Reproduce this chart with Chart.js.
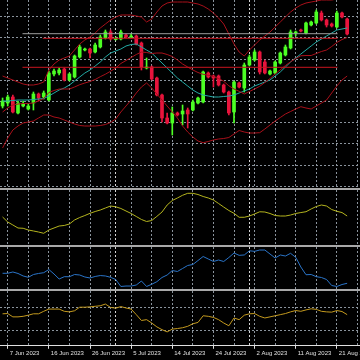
<!DOCTYPE html>
<html><head><meta charset="utf-8">
<script src="https://cdn.jsdelivr.net/npm/chart.js@4.4.0/dist/chart.umd.min.js"></script>
<style>
html,body{margin:0;padding:0;background:#000;width:360px;height:360px;overflow:hidden}
#wrap{position:relative;width:360px;height:360px;background:#000}
canvas{position:absolute;left:0}
.sep{position:absolute;left:0;width:360px;height:2px;background:#a8a8a8}
</style></head><body>
<div id="wrap">
<canvas id="cMain" width="360" height="188" style="top:0px"></canvas>
<div class="sep" style="top:188px"></div>
<canvas id="cOsc1" width="360" height="55" style="top:190px"></canvas>
<div class="sep" style="top:245px"></div>
<canvas id="cOsc2" width="360" height="42" style="top:247px"></canvas>
<div class="sep" style="top:289px"></div>
<canvas id="cRsi" width="360" height="67" style="top:291px"></canvas>
</div>
<script>
// ---------- data ----------
const dates = ['6 Jun 2023','7 Jun 2023','8 Jun 2023','9 Jun 2023','11 Jun 2023','12 Jun 2023','13 Jun 2023','14 Jun 2023','15 Jun 2023','16 Jun 2023',
'18 Jun 2023','19 Jun 2023','20 Jun 2023','21 Jun 2023','22 Jun 2023','23 Jun 2023','25 Jun 2023','26 Jun 2023','27 Jun 2023','28 Jun 2023',
'29 Jun 2023','30 Jun 2023','2 Jul 2023','3 Jul 2023','4 Jul 2023','5 Jul 2023','6 Jul 2023','7 Jul 2023','9 Jul 2023','10 Jul 2023',
'11 Jul 2023','12 Jul 2023','13 Jul 2023','14 Jul 2023','16 Jul 2023','17 Jul 2023','18 Jul 2023','19 Jul 2023','20 Jul 2023','21 Jul 2023',
'23 Jul 2023','24 Jul 2023','25 Jul 2023','26 Jul 2023','27 Jul 2023','28 Jul 2023','30 Jul 2023','31 Jul 2023','1 Aug 2023','2 Aug 2023',
'3 Aug 2023','4 Aug 2023','6 Aug 2023','7 Aug 2023','8 Aug 2023','9 Aug 2023','10 Aug 2023','11 Aug 2023','13 Aug 2023','14 Aug 2023',
'15 Aug 2023','16 Aug 2023','17 Aug 2023','18 Aug 2023','20 Aug 2023','21 Aug 2023','22 Aug 2023','23 Aug 2023'];
const futureSlots = 2;

const openP  = [84,87,93,77,84,81,87,96,93,90, 116,117,121,110,113,133,140,141,138,143, 152,158,150.5,151,155,153,154,147,122,123, 112,95,72,67,77,76,80,80,87,88, 117,114,114,105,98,78,107,102,125,130, 138,128,116,117,127,135,142,157,160,157, 165,167,177,170,166,163,177,171];
const highP  = [92,95,95,89,89,86,98,97,99,119, 121,122,122,117,135,145,142,142,147,155, 160,160,153,160,156,156,155,148,132,124, 113,96,77,83,78,85,82,90,93,119, 118,115,115,106,99,109,108,127,135,140, 139,130,120,129,138,145,160,159,161,168, 169,180,179,171,167,179,178,172];
const lowP   = [82,84,77,76,83,80,80,89,91,89, 114,115,109,109,112,132,139,132,137,142, 151,150,150,150,152,152,145,120,121,110, 94,68,66,55,74,65,62,79,86,87, 112,103,104,97,75,67,102,98,124,129, 116,116,115,116,126,134,141,154,158,156, 164,166,169,163,163,162,172,155];
const closeP = [89,93,78,87,86,84,96,92,97,117, 119,120,110,116,134,143,141,137,145,153, 158,151,151.5,158,153,154,146,123,123,111, 95,72,67,77,75,79,76,88,92,118, 113,112,105,98,77,108,103,125,133,138, 118,117,119,128,137,143,158,158,159,167, 168,178,170,165,164,177,173,156];

const bbUpper  = [114,112,110,108,106,105,105,106,108,120, 126,130,132,134,140,146,150,153,157,162, 166,170,173,175,175,175,174,173,168,171, 178,184,187,188,188,188,188,187,186,184, 181,177,172,166,156,146,138,134,140,145, 150,154,158,163,168,173,178,182,185,187, 188,189,190,190,190,191,191,191];
const bbMiddle = [78,82,85,86,86.5,86.5,87,89,91.5,97.5, 99.5,101,101,101,103,105.3,107,108.5,110.5,113.3, 115.8,118.8,122,126.5,129.5,132.5,135.5,138,137.5,136.5, 137,137,135.5,133.5,130,126,123,120,117.5,115.7, 114.7,113.5,111.5,108.7,104.2,101,98.7,96,98.5,101, 103.7,107.5,111.5,116,120.2,124.5,128.2,131.5,134.2,134.5, 134.5,136.5,138.5,140,143.5,147.5,150.5,152.5];
const bbLower  = [42,52,60,64,67,68,69,72,75,75, 73,72,70,68,66,64.5,64,64,64,64.5, 65.5,67.5,71,78,84,90,97,103,107,102, 96,90,84,78,72,64,58,53,49,47.3, 48.5,50,51,51.5,52.5,56,59.5,58,57,57, 57.3,61,65,69,72.5,76,78.5,81,83.3,82, 81,84,87,90,97,104,110,114];
const maFast   = [89,89,89.5,90,90,90,90.5,91,91.5,94, 97,100,102,105,109,113,117,120,124,128, 133,137,139,141,144,145.5,146,143,140,137, 132,127,122,117,112,108,104,100,97,95, 94,93,93,93.5,94,95,97,99,101,104, 106,108,110,114,118,123,128,132,136,140, 144,148,151,154,157,160,161,162];

const priceGrid = [173.3,152.1,130.9,109.7,88.5,67.3,46.1,24.9,3.7];
const levelGray = 156.3;
const levelRedA = 151.7, levelRedAStartBar = 4;
const levelRedB = 122.7;

const osc1 = [50.9,41.8,36.4,30.9,30.4,27.3,25.5,23.6,21.3,27.3, 30.9,34.5,35.5,38.2,45.5,50,53.6,57.6,60.9,63.6, 67.3,70.9,69.5,66.4,61.8,57.3,51.8,46.4,42.7,44.5, 52,60,72.7,80.9,85.5,90.4,94,94,91.8,88.2, 85.5,81.8,75.5,69,62.7,57.6,50.4,50.4,52.7,56.4, 60.4,60,57.3,53.6,52.7,52.7,54.5,57.3,59,60.5, 65.5,70,72.7,70.9,64.5,61.3,59,52.7];
const osc2 = [37.4,37.4,40.5,37,31,27.8,34.5,37,38.8,46.4, 35.7,23.8,29.3,29.3,34.5,33.3,28.6,26.2,29.8,32, 31,27.8,22.6,6,7.1,7.1,9.5,19,6,11.2, 17.4,27.4,33.3,44,41.7,48.8,56,58.3,67.8,77.4, 71.4,65.5,69,65.5,75,85.7,80.2,81,91,89.7, 92.8,92.8,83.3,73.8,81,78.5,85,75.4,52.4,34, 34.5,29.3,27.4,22.6,8.3,6,10.7,13.6];
const rsi  = [59.5,60,54,54,55,57,59.5,59.5,64,68, 68,68,64,63,65,71.4,71.4,72,73,74, 77,71,69.6,72.5,70,68,58,47.5,49,43, 36,31,27,32,33,34.5,37,41.6,44,56, 55,53,49,43,38,52,49,57,59.5,60, 55,52,54,56,58,60,63,65.4,64,66.5, 68.5,67.5,64,63,62.5,65.4,63.6,58];
const rsiLevels = [30,70];

// ---------- styles ----------
const GRID='#8a939c', SEPLINE='#d6d6d6', AXIS='#e0e0e0';
const UP='#4cff24', DOWN='#e8143c';
const BAND='#a8101a', TEAL='#22aaa4', HLGRAY='#9c9c9c', HLRED='#c8141e';
const C_OSC1='#b4b41e', C_OSC2='#2a74c8', C_RSI='#c49a1e';

Chart.defaults.font.family = '"Liberation Sans", Arial, sans-serif';
const labels = dates.concat(Array(futureSlots).fill(''));
const monthStarts = dates.map((d,i)=> i>0 && d.split(' ')[1] !== dates[i-1].split(' ')[1] ? i : -1).filter(i=>i>=0);
const isLabelIdx = i => i % 8 === 1 && i < dates.length;
const gridIdx = labels.map((_,i)=>i).filter(i => i % 4 === 1 || monthStarts.includes(i));

function makeX(showLabels){
  return {
    type:'category', offset:true,
    afterBuildTicks: s => { s.ticks = gridIdx.map(v => ({value:v})); },
    grid:{ display:true, offset:false, drawOnChartArea:true, drawTicks:showLabels, tickLength:3, lineWidth:1,
      color: c => (c.tick && monthStarts.includes(c.tick.value)) ? SEPLINE : GRID,
      tickColor: c => (showLabels && c.tick && isLabelIdx(c.tick.value)) ? AXIS : 'rgba(0,0,0,0)' },
    border:{ display:showLabels, color:AXIS, width:1, dash:[2,2] },
    ticks:{ display:showLabels, autoSkip:false, maxRotation:0, minRotation:0, align:'start', labelOffset:2, padding:1,
      color:AXIS, font:{size:6}, callback:(v)=> isLabelIdx(v) ? dates[v] : '' }
  };
}
function makeY(min,max,levels){
  const y = { min, max, ticks:{display:false}, border:{display:false, dash:[2,2]},
    grid:{ display: !!levels, drawTicks:false, color:GRID, lineWidth:1 } };
  if (levels) y.afterBuildTicks = s => { s.ticks = levels.map(v=>({value:v})); };
  return y;
}
const base = { responsive:false, animation:false, devicePixelRatio:1, events:[],
  layout:{padding:0}, plugins:{legend:{display:false}, tooltip:{enabled:false}} };
const lineDs = (data,color,extra) => Object.assign({type:'line', data, borderColor:color, borderWidth:1, pointRadius:0, tension:0, fill:false}, extra||{});

const candleCol = closeP.map((c,i)=> c >= openP[i] ? UP : DOWN);
const last = labels.length - 0.5;

new Chart(document.getElementById('cMain'), {
  type:'bar',
  data:{ labels, datasets:[
    lineDs([{x:-0.5,y:levelGray},{x:last,y:levelGray}], HLGRAY, {xAxisID:'xl', order:0}),
    lineDs([{x:levelRedAStartBar,y:levelRedA},{x:last,y:levelRedA}], HLRED, {xAxisID:'xl', order:0}),
    lineDs([{x:-0.5,y:levelRedB},{x:last,y:levelRedB}], HLRED, {xAxisID:'xl', order:0}),
    lineDs(bbUpper, BAND, {order:1}),
    lineDs(bbMiddle, BAND, {order:1}),
    lineDs(bbLower, BAND, {order:1}),
    lineDs(maFast, TEAL, {order:1}),
    {type:'bar', data: lowP.map((l,i)=>[l,highP[i]]), backgroundColor:candleCol, barThickness:1, grouped:false, order:6},
    {type:'bar', data: openP.map((o,i)=>[o,closeP[i]]), backgroundColor:candleCol, barThickness:3, grouped:false, minBarLength:1, order:5}
  ]},
  options: Object.assign({}, base, { scales:{
    x: makeX(false),
    xl: { type:'linear', display:false, min:-0.5, max:last },
    y: makeY(2,190,priceGrid)
  }})
});

new Chart(document.getElementById('cOsc1'), {
  type:'line', data:{ labels, datasets:[ lineDs(osc1, C_OSC1) ] },
  options: Object.assign({}, base, { scales:{ x: makeX(false), y: makeY(0,100,null) } })
});
new Chart(document.getElementById('cOsc2'), {
  type:'line', data:{ labels, datasets:[ lineDs(osc2, C_OSC2) ] },
  options: Object.assign({}, base, { scales:{ x: makeX(false), y: makeY(0,100,null) } })
});
new Chart(document.getElementById('cRsi'), {
  type:'line', data:{ labels, datasets:[ lineDs(rsi, C_RSI) ] },
  options: Object.assign({}, base, { scales:{ x: makeX(true), y: makeY(2,100.5,rsiLevels) } })
});
</script>
</body></html>
